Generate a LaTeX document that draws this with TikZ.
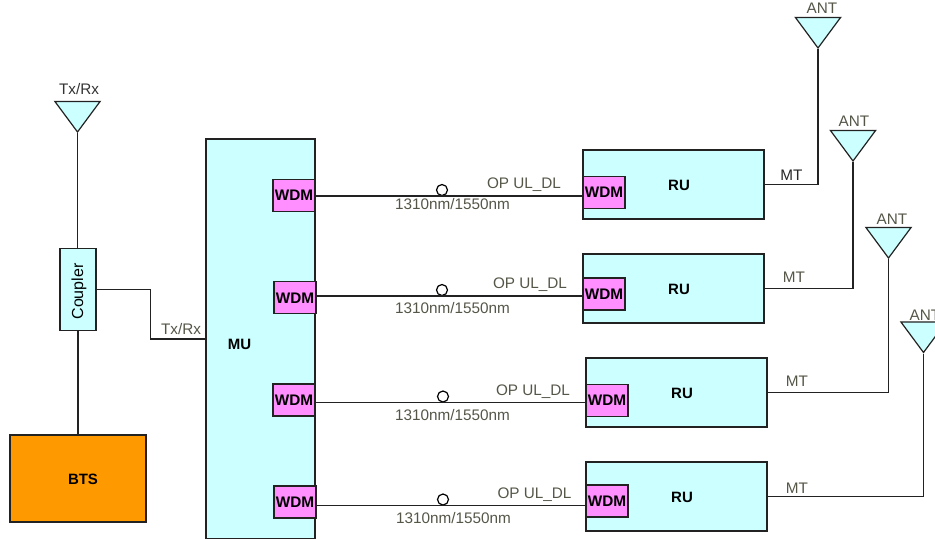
\documentclass[tikz,border=0pt]{standalone}
\usepackage{fontspec}
\usepackage{tikz}
\usetikzlibrary{shapes.geometric}
\setmainfont{Liberation Sans}
\definecolor{boxcyan}{HTML}{CCFFFF}
\definecolor{boxpink}{HTML}{FF8FFF}
\definecolor{boxorange}{HTML}{FF9900}
\definecolor{labelgray}{HTML}{555548}
\definecolor{wiregray}{HTML}{222222}
\tikzset{
  unitbox/.style={draw=wiregray, line width=1.2pt, fill=boxcyan, inner sep=0pt},
  wdmbox/.style={draw=wiregray, line width=1.2pt, fill=boxpink, inner sep=0pt, minimum width=42pt, minimum height=32pt, font=\fontsize{15.3}{17}\selectfont\bfseries},
  rubox/.style={unitbox, minimum width=181pt, minimum height=69pt},
  antenna/.style={isosceles triangle, isosceles triangle apex angle=73, shape border rotate=-90, draw=wiregray, line width=1.2pt, fill=boxcyan, inner sep=0pt, minimum height=30.5pt, anchor=apex},
  tag/.style={text=labelgray, inner sep=0pt, font=\fontsize{15.3}{17}\selectfont},
  unittag/.style={inner sep=0pt, font=\fontsize{15}{17}\selectfont\bfseries},
  spool/.style={circle, draw=black, line width=1.2pt, fill=white, inner sep=0pt, minimum size=11pt},
  wire/.style={draw=wiregray, line width=1.3pt}
}

\begin{document}
\begin{tikzpicture}[x=1pt,y=-1pt]
        \useasboundingbox (0,0) rectangle (935,539);
        % base station side
        \node[unitbox, fill=boxorange, minimum width=136pt, minimum height=87pt] (bts) at (78,478.5) {};
        \node[unittag] (btstag) at (83,479.5) {BTS};
        \node[unitbox, minimum width=36pt, minimum height=82pt] (coupler) at (78,289.5) {};
        \node[inner sep=0pt, rotate=90, font=\fontsize{16}{18}\selectfont] (couplertag) at (79,291.5) {Coupler};
        \node[antenna] (anttx) at (77.5,133) {};
        \node[tag, text=black!80] (anttxtag) at (79,89) {Tx/Rx};
        \draw[wire] (anttx.apex) -- (anttx.apex |- coupler.north);
        \draw[wire] (coupler) -- (bts);
        % master unit, y runs to the page edge
        \node[unitbox, minimum width=109pt, minimum height=399.5pt] (mu) at (260.5,338.75) {};
        \node[unittag] (mutag) at (239.5,344.5) {MU};
        \draw[wire] (coupler.east) -- (150.5,289.5) |- (mu.west |- 0,339) coordinate (muin);
        \node[tag] (mutxtag) at (181,329) {Tx/Rx};
        % WDM ports on the MU
        \node[wdmbox] (wdmm1) at (294,195.5) {WDM};
        \node[wdmbox] (wdmm2) at (295,297.75) {WDM};
        \node[wdmbox] (wdmm3) at (294,400) {WDM};
        \node[wdmbox] (wdmm4) at (295,502) {WDM};
        % remote units
        \node[rubox] (ru1) at (673.5,184.5) {};
        \node[rubox] (ru2) at (673.5,288.5) {};
        \node[rubox] (ru3) at (676.5,392.5) {};
        \node[rubox] (ru4) at (676.5,496.5) {};
        \node[unittag] (rutag1) at (679,185.5) {RU};
        \node[unittag] (rutag2) at (679,289.5) {RU};
        \node[unittag] (rutag3) at (682,393.5) {RU};
        \node[unittag] (rutag4) at (682,497.5) {RU};
        \node[wdmbox] (wdmr1) at (604,192.5) {WDM};
        \node[wdmbox] (wdmr2) at (604,294) {WDM};
        \node[wdmbox] (wdmr3) at (607,400.25) {WDM};
        \node[wdmbox] (wdmr4) at (607,501) {WDM};
        % fibre rows: line runs along the bottom of each small circle
        \node[spool] (fib1) at (442,190) {};
        \node[spool] (fib2) at (442,290) {};
        \node[spool] (fib3) at (443,396.5) {};
        \node[spool] (fib4) at (443,499.5) {};
        \draw[wire] (wdmm1.east |- fib1.south) -- (wdmr1.west |- fib1.south);
        \draw[wire] (wdmm2.east |- fib2.south) -- (wdmr2.west |- fib2.south);
        \draw[wire] (wdmm3.east |- fib3.south) -- (wdmr3.west |- fib3.south);
        \draw[wire] (wdmm4.east |- fib4.south) -- (wdmr4.west |- fib4.south);
        \node[tag] (optag1) at (524,185) {OP UL\_DL};
        \node[tag] (optag2) at (530,285) {OP UL\_DL};
        \node[tag] (optag3) at (533,392) {OP UL\_DL};
        \node[tag] (optag4) at (534.5,495) {OP UL\_DL};
        \node[tag] (wavetag1) at (452.5,204) {1310nm/1550nm};
        \node[tag] (wavetag2) at (452.5,308) {1310nm/1550nm};
        \node[tag] (wavetag3) at (452.5,415) {1310nm/1550nm};
        \node[tag] (wavetag4) at (453.5,518) {1310nm/1550nm};
        % antennas and their feeds
        \node[antenna] (ant1) at (818,49) {};
        \node[antenna] (ant2) at (853,162) {};
        \node[antenna] (ant3) at (888.5,259) {};
        \node[antenna] (ant4) at (923.5,353.5) {};
        \draw[wire] (ru1.east) -| (ant1.apex);
        \draw[wire] (ru2.east) -| (ant2.apex);
        \draw[wire] (ru3.east) -| (ant3.apex);
        \draw[wire] (ru4.east) -| (ant4.apex);
        \node[tag] (anttag1) at (822,8) {ANT};
        \node[tag] (anttag2) at (854,121) {ANT};
        \node[tag] (anttag3) at (892,219) {ANT};
        \node[tag] (anttag4) at (925,315) {ANT};
        \node[tag, text=black!85] (mttag1) at (791.5,175) {MT};
        \node[tag] (mttag2) at (794,277) {MT};
        \node[tag] (mttag3) at (797,381) {MT};
        \node[tag] (mttag4) at (797,488) {MT};
      \end{tikzpicture}
\end{document}
